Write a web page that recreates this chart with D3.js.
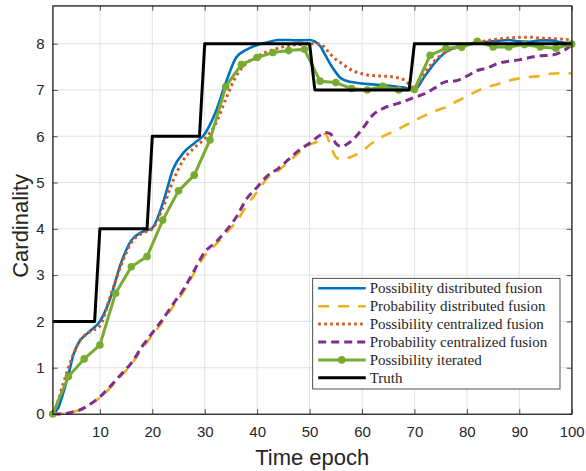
<!DOCTYPE html>
<html>
<head>
<meta charset="utf-8">
<script src="https://cdn.jsdelivr.net/npm/d3@7"></script>
<style>
  body { margin: 0; background: #fff; }
</style>
</head>
<body>
<div id="root"></div>
<script>
// epochs where the smooth curves are sampled
const epochs = [1, 2, 3, 4, 5, 6, 8, 10, 12, 14, 16, 18, 20, 22, 24, 26, 28, 30, 32, 34, 36, 38, 40,
  42, 44, 46, 48, 50, 52, 53, 54, 55, 56, 58, 60, 62, 64, 66, 68, 70, 72, 74, 76, 78, 80, 82, 84,
  86, 88, 90, 92, 94, 96, 98, 100];

const possDistributed = [0, 0.12, 0.45, 0.85, 1.3, 1.55, 1.78, 2.0, 2.5, 3.25, 3.75, 3.93, 4.02, 4.55,
  5.3, 5.65, 5.85, 6.05, 6.5, 7.15, 7.7, 7.87, 7.97, 8.03, 8.08, 8.08, 8.07, 8.08, 7.95, 7.75, 7.55,
  7.38, 7.25, 7.17, 7.14, 7.12, 7.1, 7.08, 7.05, 7.0, 7.3, 7.6, 7.82, 7.93, 7.98, 8.02, 8.04, 8.06,
  8.08, 8.05, 8.04, 8.07, 8.07, 8.03, 8.0];

const probDistributed = [0, 0, 0.01, 0.02, 0.05, 0.08, 0.2, 0.35, 0.57, 0.82, 1.07, 1.4, 1.7, 2.0,
  2.33, 2.65, 3.05, 3.42, 3.65, 3.9, 4.15, 4.5, 4.8, 5.1, 5.25, 5.45, 5.65, 5.82, 5.92, 6.05, 5.8,
  5.55, 5.5, 5.56, 5.68, 5.86, 6.0, 6.1, 6.22, 6.33, 6.45, 6.55, 6.63, 6.75, 6.86, 6.98, 7.06, 7.13,
  7.2, 7.25, 7.28, 7.3, 7.35, 7.36, 7.36];

const possCentralized = [0, 0.27, 0.65, 1.0, 1.3, 1.55, 1.77, 1.9, 2.55, 3.2, 3.7, 3.9, 4.0, 4.45,
  5.05, 5.5, 5.75, 5.95, 6.25, 6.8, 7.3, 7.58, 7.72, 7.83, 7.9, 7.96, 7.98, 8.0, 8.0, 7.9, 7.77,
  7.66, 7.58, 7.43, 7.35, 7.31, 7.3, 7.28, 7.22, 7.05, 7.38, 7.65, 7.82, 7.92, 7.97, 8.02, 8.07, 8.1,
  8.12, 8.14, 8.14, 8.12, 8.11, 8.1, 8.08];

const probCentralized = [0, 0, 0.01, 0.02, 0.05, 0.08, 0.2, 0.37, 0.6, 0.85, 1.1, 1.45, 1.75, 2.05,
  2.38, 2.7, 3.1, 3.5, 3.7, 3.95, 4.25, 4.65, 4.9, 5.15, 5.3, 5.5, 5.7, 5.85, 6.02, 6.08, 6.05, 5.85,
  5.78, 5.9, 6.15, 6.45, 6.6, 6.68, 6.75, 6.84, 6.92, 7.05, 7.18, 7.2, 7.3, 7.42, 7.48, 7.58, 7.62,
  7.65, 7.7, 7.74, 7.75, 7.82, 7.97];

// iterated estimate has a marker every 3 epochs
const iterEpochs = [1, 4, 7, 10, 13, 16, 19, 22, 25, 28, 31, 34, 37, 40, 43, 46, 49, 52, 55, 58, 61,
  64, 67, 70, 73, 76, 79, 82, 85, 88, 91, 94, 97, 100];
const possIterated = [0, 0.81, 1.19, 1.49, 2.61, 3.18, 3.4, 4.19, 4.82, 5.16, 5.92, 7.07, 7.55, 7.7,
  7.81, 7.85, 7.88, 7.19, 7.16, 7.03, 7.0, 7.08, 7.0, 7.01, 7.75, 7.9, 7.92, 8.05, 7.93, 7.93, 7.98,
  7.93, 7.9, 7.99];

const truthEpochs = [1, 9, 10, 19, 20, 29, 30, 50, 51, 69, 70, 100];
const truthValues = [2, 2, 4, 4, 6, 6, 8, 8, 7, 7, 8, 8];

const xTicks = [10, 20, 30, 40, 50, 60, 70, 80, 90, 100];
const yTicks = [0, 1, 2, 3, 4, 5, 6, 7, 8];

const width = 586, height = 471;
const plotL = 52.7, plotR = 571.7, plotT = 5.7, plotB = 414;

const svg = d3.select("#root").append("svg")
  .attr("width", width)
  .attr("height", height)
  .style("display", "block");

const xScale = d3.scaleLinear().domain([1, 100]).range([plotL, plotR]);
const yScale = d3.scaleLinear().domain([0, 8.82]).range([plotB, plotT]);

const axisColor = "#262626";
const tickFont = "'Liberation Sans', Arial, sans-serif";

// grid
const grid = svg.append("g").attr("stroke", "#e2e2e2").attr("stroke-width", 1);
grid.selectAll(".gx").data(xTicks).enter().append("line")
  .attr("x1", d => xScale(d)).attr("x2", d => xScale(d))
  .attr("y1", plotT).attr("y2", plotB);
grid.selectAll(".gy").data(yTicks).enter().append("line")
  .attr("x1", plotL).attr("x2", plotR)
  .attr("y1", d => yScale(d)).attr("y2", d => yScale(d));

const series = [
  { name: "Possibility distributed fusion", x: epochs, y: possDistributed, color: "#0072BD", w: 2.6, dash: null },
  { name: "Probability distributed fusion", x: epochs, y: probDistributed, color: "#EDB120", w: 2.6, dash: "11,9" },
  { name: "Possibility centralized fusion", x: epochs, y: possCentralized, color: "#D95319", w: 3, dash: "2.6,3.4" },
  { name: "Probability centralized fusion", x: epochs, y: probCentralized, color: "#7E2F8E", w: 3, dash: "8,5" },
  { name: "Possibility iterated", x: iterEpochs, y: possIterated, color: "#77AC30", w: 3, dash: null, marker: true, linear: true },
  { name: "Truth", x: truthEpochs, y: truthValues, color: "#000000", w: 3, dash: null, linear: true }
];

const plot = svg.append("g");

series.forEach(s => {
  const pts = s.x.map((x, i) => [x, s.y[i]]);
  const line = d3.line()
    .x(d => xScale(d[0]))
    .y(d => yScale(d[1]))
    .curve(s.linear ? d3.curveLinear : d3.curveMonotoneX);
  plot.append("path")
    .datum(pts)
    .attr("d", line)
    .attr("fill", "none")
    .attr("stroke", s.color)
    .attr("stroke-width", s.w)
    .attr("stroke-dasharray", s.dash)
    .attr("stroke-linejoin", "round");
  if (s.marker) {
    plot.selectAll(null).data(pts).enter().append("circle")
      .attr("cx", d => xScale(d[0]))
      .attr("cy", d => yScale(d[1]))
      .attr("r", 3.8)
      .attr("fill", s.color);
  }
});

// axes (box with inward ticks)
const xAxisB = svg.append("g").attr("transform", `translate(0,${plotB})`)
  .call(d3.axisBottom(xScale).tickValues(xTicks).tickSizeInner(-5).tickSizeOuter(0).tickPadding(12));
const xAxisT = svg.append("g").attr("transform", `translate(0,${plotT})`)
  .call(d3.axisTop(xScale).tickValues(xTicks).tickSizeInner(-5).tickSizeOuter(0).tickFormat(""));
const yAxisL = svg.append("g").attr("transform", `translate(${plotL},0)`)
  .call(d3.axisLeft(yScale).tickValues(yTicks).tickSizeInner(-5).tickSizeOuter(0).tickPadding(8));
const yAxisR = svg.append("g").attr("transform", `translate(${plotR},0)`)
  .call(d3.axisRight(yScale).tickValues(yTicks).tickSizeInner(-5).tickSizeOuter(0).tickFormat(""));

[xAxisB, xAxisT, yAxisL, yAxisR].forEach(a => {
  a.select(".domain").attr("stroke", axisColor).attr("stroke-width", 0.8);
  a.selectAll(".tick line").attr("stroke", axisColor).attr("stroke-width", 0.8);
  a.selectAll(".tick text")
    .attr("fill", axisColor)
    .style("font-family", tickFont)
    .style("font-size", "15px");
});
// close box at corners
svg.append("rect")
  .attr("x", plotL).attr("y", plotT)
  .attr("width", plotR - plotL).attr("height", plotB - plotT)
  .attr("fill", "none").attr("stroke", axisColor).attr("stroke-width", 0.8);

svg.append("text")
  .attr("x", (plotL + plotR) / 2)
  .attr("y", 465)
  .attr("text-anchor", "middle")
  .attr("fill", axisColor)
  .style("font-family", tickFont)
  .style("font-size", "22px")
  .text("Time epoch");

svg.append("text")
  .attr("transform", `translate(28,${(plotT + plotB) / 2 + 16}) rotate(-90)`)
  .attr("text-anchor", "middle")
  .attr("fill", axisColor)
  .style("font-family", tickFont)
  .style("font-size", "22px")
  .text("Cardinality");

// legend
const lgX = 312.7, lgY = 278.3, lgW = 247.3, lgH = 110.7, rowH = 17.9;
const legend = svg.append("g");
legend.append("rect")
  .attr("x", lgX).attr("y", lgY)
  .attr("width", lgW).attr("height", lgH)
  .attr("fill", "#fff")
  .attr("stroke", axisColor)
  .attr("stroke-width", 0.8);

series.forEach((s, i) => {
  const cy = lgY + 10 + i * rowH;
  legend.append("line")
    .attr("x1", lgX + 5.5).attr("x2", lgX + 53)
    .attr("y1", cy).attr("y2", cy)
    .attr("stroke", s.color)
    .attr("stroke-width", s.w)
    .attr("stroke-dasharray", s.dash);
  if (s.marker) {
    legend.append("circle")
      .attr("cx", lgX + 29).attr("cy", cy).attr("r", 3.8).attr("fill", s.color);
  }
  legend.append("text")
    .attr("x", lgX + 57)
    .attr("y", cy + 5)
    .attr("fill", axisColor)
    .style("font-family", "'Liberation Serif', 'Times New Roman', serif")
    .style("font-size", "15px")
    .text(s.name);
});
</script>
</body>
</html>
